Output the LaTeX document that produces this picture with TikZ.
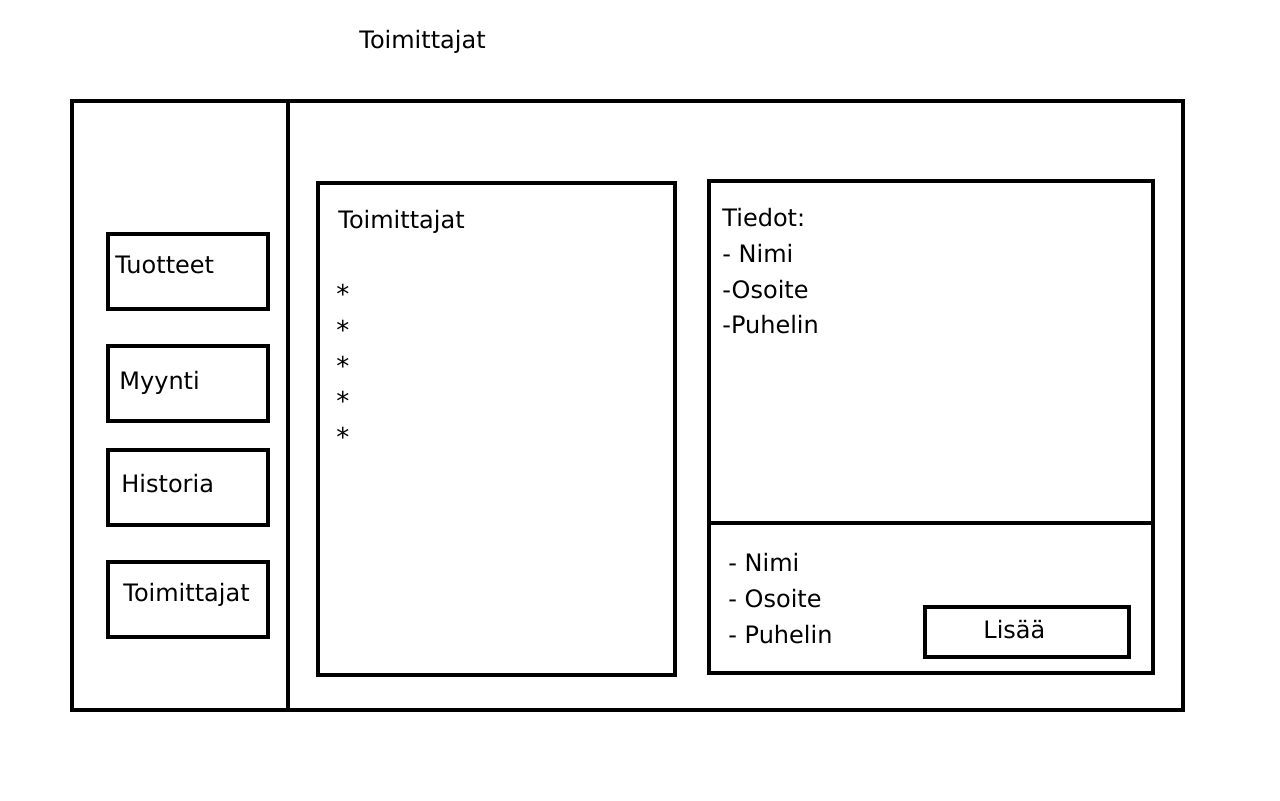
\documentclass[tikz,border=0pt]{standalone}
\usepackage{fontspec}
\setmainfont{DejaVu Sans}
\usetikzlibrary{positioning}

\begin{document}
\begin{tikzpicture}[x=0.5pt,y=-0.5pt,
	frame/.style={draw,line width=2.4pt},
	txt/.style={anchor=base west,inner sep=0pt,font=\fontsize{12}{14}\selectfont}]
	\useasboundingbox (0,0) rectangle (1280,800);

	% title
	\node[txt] (title) at (359,48) {Toimittajat};

	% window and side bar
	\draw[frame] (72,101) rectangle (1183,710);
	\draw[frame] (288,101) -- (288,710);

	% menu buttons
	\draw[frame] (108,234) rectangle (268,309);
	\node[txt] (tuotteet) at (115,273) {Tuotteet};

	\draw[frame] (108,346) rectangle (268,421);
	\node[txt] (myynti) at (119,389) {Myynti};

	\draw[frame] (108,450) rectangle (268,525);
	\node[txt] (historia) at (121,492) {Historia};

	\draw[frame] (108,562) rectangle (268,637);
	\node[txt] (toimittajat) at (123,601) {Toimittajat};

	% list of suppliers
	\draw[frame] (318,183) rectangle (675,675);
	\node[txt] (listtitle) at (338,228) {Toimittajat};
	\foreach \i/\y in {1/294,2/330,3/366,4/401,5/437}
		\node[anchor=west,inner sep=0pt,font=\fontsize{13}{15}\selectfont] (star\i) at (336,\y) {*};

	% details
	\draw[frame] (709,181) rectangle (1153,523);
	\node[txt] (tiedot) at (722,226) {Tiedot:};
	\node[txt] (nimi) at (722,262) {- Nimi};
	\node[txt] (osoite) at (722,298) {-Osoite};
	\node[txt] (puhelin) at (722,333) {-Puhelin};

	% new supplier form
	\draw[frame] (709,523) rectangle (1153,673);
	\node[txt] (uusinimi) at (728,571) {- Nimi};
	\node[txt] (uusiosoite) at (728,607) {- Osoite};
	\node[txt] (uusipuhelin) at (728,643) {- Puhelin};

	\draw[frame] (925,607) rectangle (1129,657);
	\node[txt] (lisaa) at (983,638) {Lisää};

\end{tikzpicture}
\end{document}
